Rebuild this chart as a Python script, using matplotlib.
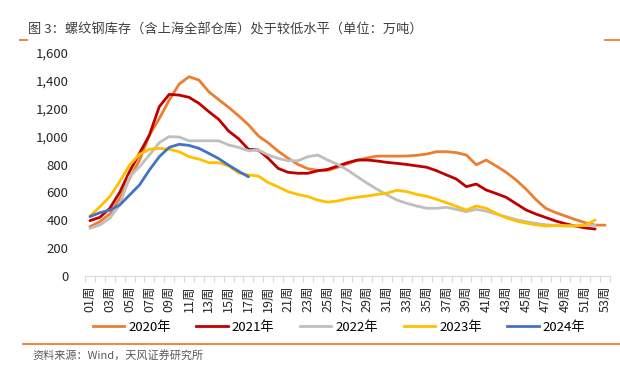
import numpy as np
import matplotlib
matplotlib.use("Agg")
import matplotlib.pyplot as plt
from matplotlib.lines import Line2D

plt.rcParams['font.family'] = ['Noto Sans CJK SC', 'DejaVu Sans']

weeks = np.arange(1, 54)
week_labels = ["%02d周" % w for w in weeks]

y2020 = [354, 390, 445, 555, 700, 830, 1010, 1130, 1262, 1377, 1430, 1406, 1322, 1265, 1210,
         1150, 1085, 1005, 955, 895, 845, 800, 770, 758, 757, 780, 805, 830, 848, 860, 860,
         860, 861, 866, 875, 892, 892, 885, 868, 798, 832, 790, 745, 690, 625, 550, 486,
         455, 430, 405, 382, 365, 365]
y2021 = [397, 421, 485, 600, 750, 880, 1011, 1215, 1303, 1298, 1282, 1239, 1179, 1124, 1040,
         985, 909, 904, 844, 772, 744, 737, 737, 755, 765, 789, 813, 832, 832, 825, 815,
         808, 800, 790, 780, 755, 725, 695, 641, 660, 617, 592, 565, 520, 475, 445, 420,
         395, 375, 358, 345, 337]
y2022 = [342, 366, 414, 510, 712, 784, 868, 957, 1000, 997, 970, 970, 970, 970, 940,
         923, 899, 904, 868, 844, 827, 827, 856, 868, 832, 801, 760, 712, 665, 622, 581,
         545, 521, 502, 486, 486, 493, 478, 461, 478, 465, 445, 425, 405, 390, 378, 368,
         362, 360, 360, 362, 365]
y2023 = [430, 497, 569, 677, 796, 873, 909, 916, 909, 892, 856, 839, 813, 813, 790,
         740, 725, 717, 670, 640, 605, 585, 570, 545, 530, 538, 555, 565, 574, 585, 595,
         615, 605, 585, 572, 550, 525, 500, 473, 502, 486, 450, 418, 395, 380, 368, 358,
         362, 360, 358, 365, 402]
y2024 = [426, 454, 473, 509, 581, 653, 760, 856, 923, 945, 937, 916, 880, 842, 795,
         752, 712]

series = [("2020年", y2020, "#ED7D31"),
          ("2021年", y2021, "#C00000"),
          ("2022年", y2022, "#BFBFBF"),
          ("2023年", y2023, "#FFC000"),
          ("2024年", y2024, "#4472C4")]

fig = plt.figure(figsize=(6.2, 3.67), dpi=100)
ax = fig.add_axes([85/620, 1-276/367, 525/620, 223/367])

for name, vals, col in series:
    ax.plot(weeks[:len(vals)], vals, color=col, lw=2.0, label=name, solid_capstyle='round')

ax.set_xlim(0.5, 53.5)
ax.set_ylim(0, 1600)
ax.set_yticks(np.arange(0, 1601, 200))
ax.set_yticklabels(["{:,}".format(v) for v in range(0, 1601, 200)], fontsize=9.5, color="#262626")
ax.set_xticks(weeks[::2])
ax.set_xticklabels(week_labels[::2], rotation=90, fontsize=9, color="#262626")
ax.set_xticks(np.arange(0.5, 54, 1), minor=True)
ax.tick_params(axis='x', which='major', length=0, pad=7)
ax.tick_params(axis='x', which='minor', length=4, color="#D9D9D9", width=0.8)
ax.tick_params(axis='y', length=0, pad=12)
for s in ["top", "right", "left"]:
    ax.spines[s].set_visible(False)
ax.spines["bottom"].set_color("#D9D9D9")
ax.spines["bottom"].set_linewidth(0.8)

handles = [Line2D([0], [0], color=c, lw=2.0) for _, _, c in series]
fig.legend(handles, [n for n, _, _ in series], loc="center", bbox_to_anchor=(339/620, 1-327/367),
           ncol=5, frameon=False, fontsize=9.5, handlelength=2.4, columnspacing=1.93,
           handletextpad=0.3)

fig.text(28/620, 1-30/367, "图 3：螺纹钢库存（含上海全部仓库）处于较低水平（单位：万吨）",
         fontsize=9.5, color="#404040", va="center", ha="left", fontweight="medium")
fig.text(32/620, 1-355/367, "资料来源：Wind，天风证券研究所", fontsize=8, color="#595959",
         va="center", ha="left")

fig.add_artist(Line2D([23/620, 1], [1-344/367, 1-344/367], color="#ED7D31", lw=1.3))
fig.add_artist(Line2D([20/620, 27/620], [1-40/367, 1-40/367], color="#ED7D31", lw=1.3))
fig.add_artist(Line2D([605/620, 1], [1-40/367, 1-40/367], color="#ED7D31", lw=1.3))

fig.savefig("out.png", dpi=100)
